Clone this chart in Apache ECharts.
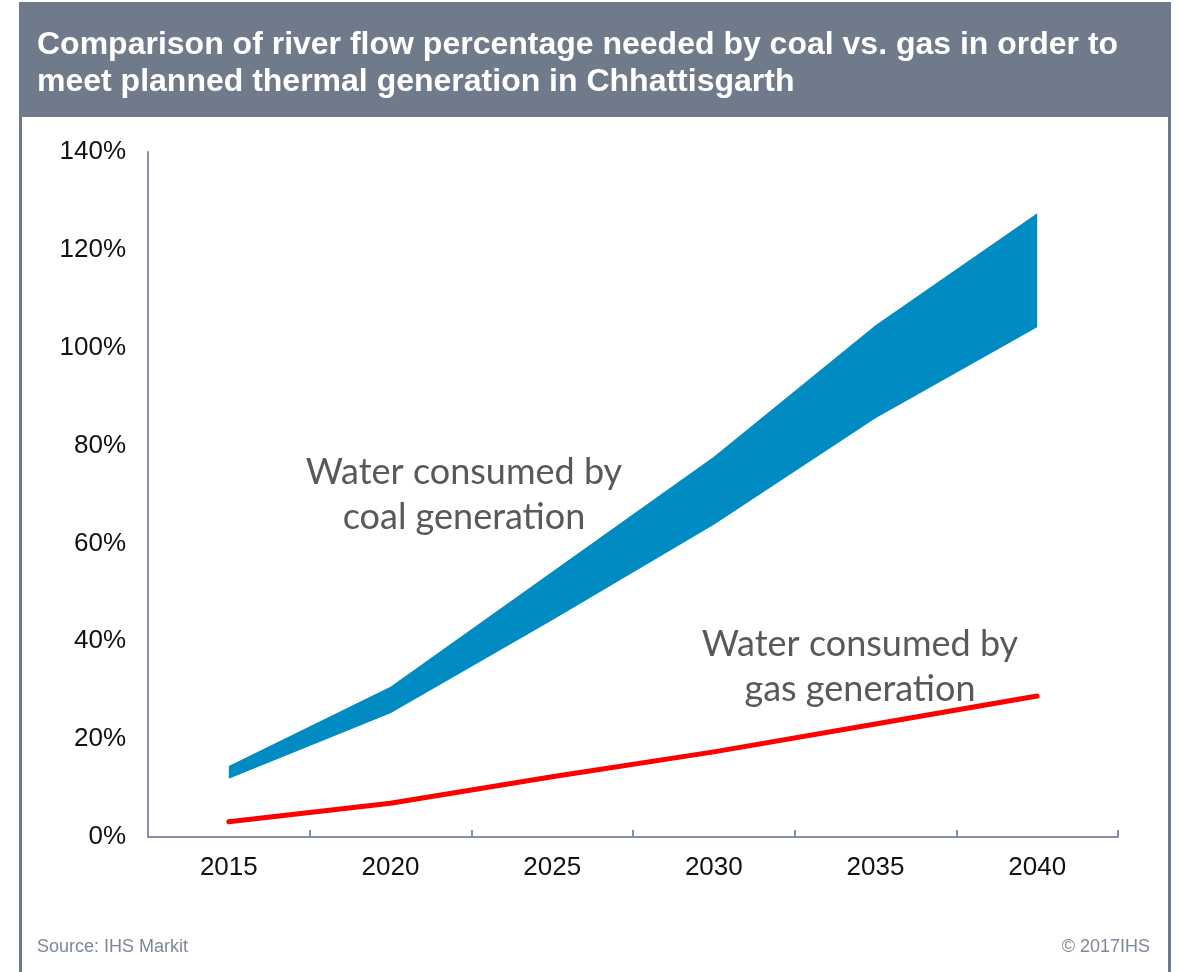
<!DOCTYPE html>
<html>
<head>
<meta charset="utf-8">
<script src="https://cdn.jsdelivr.net/npm/echarts@6/dist/echarts.min.js"></script>
<style>
  html, body { margin: 0; padding: 0; background: #ffffff; }
  #chart { width: 1180px; height: 972px; }
</style>
</head>
<body>
<div id="chart"></div>
<script>
// Years on the horizontal axis
const years = ['2015', '2020', '2025', '2030', '2035', '2040'];
// Share of river flow needed (%) – coal range (low / high) and gas
const coalLow = [11.9, 25.3, 44.3, 63.8, 85.6, 104.2];
const coalHigh = [14.5, 30.7, 54.2, 77.7, 104.6, 127.5];
const gas = [3.1, 6.9, 12.3, 17.4, 23.1, 28.8];
// Vertical axis ticks
const yTicks = [0, 20, 40, 60, 80, 100, 120, 140];

const coalSpread = coalHigh.map((v, i) => +(v - coalLow[i]).toFixed(2));

const frameGray = '#6f7b8a';
const axisGray = '#8591a0';
const noteFont = 'Lato, "Open Sans", sans-serif';
const sansFont = '"Liberation Sans", Arial, sans-serif';

const chart = echarts.init(document.getElementById('chart'), null, { renderer: 'canvas' });

chart.setOption({
  animation: false,
  backgroundColor: '#ffffff',
  grid: { left: 148, right: 62, top: 152, bottom: 135, containLabel: false },
  xAxis: {
    type: 'category',
    data: years,
    boundaryGap: true,
    axisLine: { lineStyle: { color: axisGray, width: 2 } },
    axisTick: { show: true, inside: true, length: 7, lineStyle: { color: axisGray, width: 2 } },
    axisLabel: { color: '#111111', fontSize: 26, fontFamily: sansFont, margin: 18 },
    splitLine: { show: false }
  },
  yAxis: {
    type: 'value',
    min: yTicks[0],
    max: yTicks[yTicks.length - 1],
    interval: yTicks[1] - yTicks[0],
    axisLine: { show: true, lineStyle: { color: axisGray, width: 2 } },
    axisTick: { show: false },
    axisLabel: { color: '#111111', fontSize: 26, fontFamily: sansFont, margin: 22, formatter: '{value}%' },
    splitLine: { show: false }
  },
  series: [
    {
      name: 'coal-low',
      type: 'line',
      stack: 'coal',
      data: coalLow,
      symbol: 'none',
      lineStyle: { width: 0, opacity: 0 },
      silent: true
    },
    {
      name: 'coal-range',
      type: 'line',
      stack: 'coal',
      data: coalSpread,
      symbol: 'none',
      lineStyle: { width: 0, opacity: 0 },
      areaStyle: { color: '#008cc3', opacity: 1 },
      silent: true
    },
    {
      name: 'gas',
      type: 'line',
      data: gas,
      symbol: 'none',
      lineStyle: { color: '#ff0000', width: 5, cap: 'round', join: 'round' },
      silent: true,
      z: 3
    }
  ],
  graphic: [
    // header band
    { type: 'rect', left: 19, top: 2, shape: { width: 1152, height: 115 }, style: { fill: frameGray }, z: -1, silent: true },
    // side borders of the panel
    { type: 'rect', left: 19, top: 2, shape: { width: 3, height: 970 }, style: { fill: frameGray }, silent: true },
    { type: 'rect', left: 1168, top: 2, shape: { width: 3, height: 970 }, style: { fill: frameGray }, silent: true },
    // header text
    {
      type: 'text', left: 37, top: 27, silent: true,
      style: {
        text: 'Comparison of river flow percentage needed by coal vs. gas in order to\nmeet planned thermal generation in Chhattisgarth',
        fill: '#ffffff', font: 'bold 32px ' + sansFont, lineHeight: 37
      }
    },
    // series notes
    {
      type: 'text', x: 464, y: 495, silent: true,
      style: {
        text: 'Water consumed by\ncoal generation', fill: '#595959',
        font: '36px ' + noteFont, textAlign: 'center', textVerticalAlign: 'middle', lineHeight: 45
      }
    },
    {
      type: 'text', x: 860, y: 667, silent: true,
      style: {
        text: 'Water consumed by\ngas generation', fill: '#595959',
        font: '36px ' + noteFont, textAlign: 'center', textVerticalAlign: 'middle', lineHeight: 45
      }
    },
    // footer
    {
      type: 'text', left: 37, top: 938, silent: true,
      style: { text: 'Source: IHS Markit', fill: '#7d8898', font: '18px ' + sansFont }
    },
    {
      type: 'text', right: 30, top: 938, silent: true,
      style: { text: '\u00a9 2017IHS', fill: '#7d8898', font: '18px ' + sansFont }
    }
  ]
});
</script>
</body>
</html>
